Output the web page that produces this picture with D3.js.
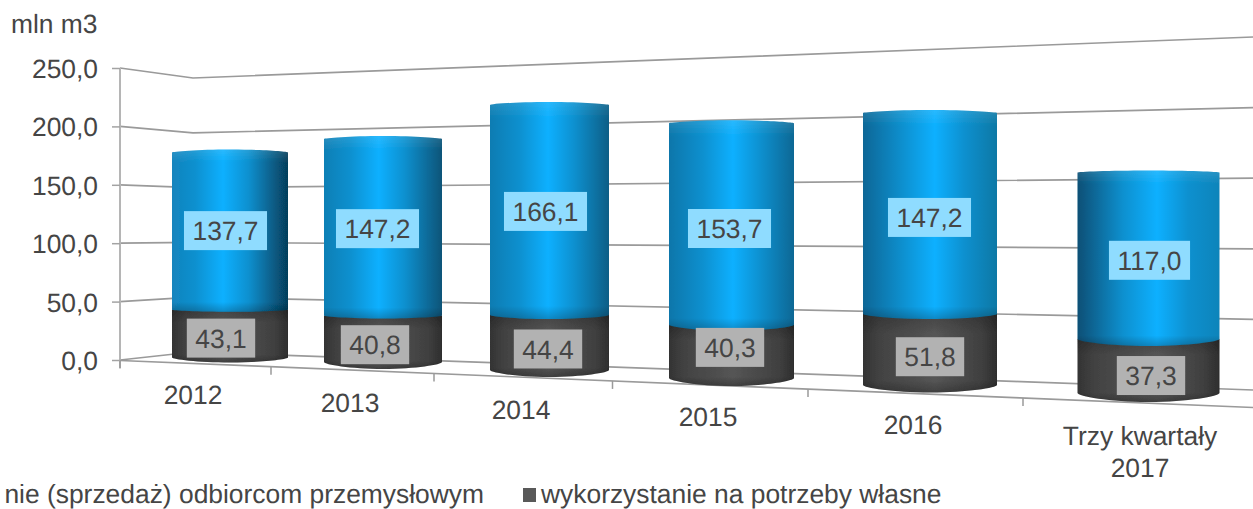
<!DOCTYPE html>
<html><head><meta charset="utf-8">
<script src="https://cdn.jsdelivr.net/npm/d3@7"></script>
<style>html,body{margin:0;padding:0;background:#fff}svg{display:block}text{font-family:"Liberation Sans",Arial,sans-serif;fill:#454545;font-size:26.4px;text-rendering:geometricPrecision}</style>
</head><body><svg id="c" width="1253" height="509"></svg>
<script>
const categories = ["2012","2013","2014","2015","2016","Trzy kwartały|2017"];
const sales = [137.7,147.2,166.1,153.7,147.2,117.0];
const ownUse = [43.1,40.8,44.4,40.3,51.8,37.3];
const yTicks = [0,50,100,150,200,250];
const legendLabels = ["nie (sprzedaż) odbiorcom przemysłowym","wykorzystanie na potrzeby własne"];
const unitLabel = "mln m3";

// perspective layout of the 3D chart
const idx = categories.map((_,i)=>i);
const xCenter = d3.scaleLinear().domain(idx).range([230,383,549.5,731.5,930,1148.5]);
const barWidth = d3.scaleLinear().domain(idx).range([116,118,119,125,134,142]);
const baseY = d3.scaleLinear().domain(idx).range([362.5,369,377,386,392.5,402]);
const unit = d3.scaleLinear().domain(idx).range([1.178,1.24,1.307,1.37,1.42,1.5]);
const bottomRy = d3.scaleLinear().domain(idx).range([5,7,7,8,7.5,9]);
const seamRy = d3.scaleLinear().domain(idx).range([2,3,4,6,5,7]);
const topRy = d3.scaleLinear().domain(idx).range([3,3,3,3,3,2]);
const labelXBlue = d3.scaleLinear().domain(idx).range([225.5,377.5,545.5,729.5,929.5,1149.5]);
const labelXDark = d3.scaleLinear().domain(idx).range([221,375,548,730,930,1151]);
const labelNudgeBlue = d3.scaleLinear().domain(idx).range([0,1.5,1,3,3,2]);
const labelNudgeDark = d3.scaleLinear().domain(idx).range([1,1,1,-11,1,1.5]);
const catX = d3.scaleLinear().domain(idx).range([193,350,521,708,913,1140]);
const catY = d3.scaleLinear().domain(idx).range([404,412,419,426,434,445]);
const xTicks = [120,271,434,612.5,808,1023];

const yWallFront = d3.scaleLinear().domain([0,250]).range([360,68]);
const yWallBack = d3.scaleLinear().domain([0,250]).range([352,78]);
const yWallRight = d3.scaleLinear().domain([0,250]).range([390,37]);
const floorY = d3.scaleLinear().domain([120,1253]).range([360.5,407.5]);
const xLeft=120, xBack=193, xRight=1253;

const svg = d3.select("#c");
const defs = svg.append("defs");
defs.append("filter").attr("id","soft").attr("x","-5%").attr("y","-5%").attr("width","110%").attr("height","110%")
  .append("feGaussianBlur").attr("stdDeviation",0.5);

const leftEdge = d3.scaleLinear().domain([0,1,2,3,4,5]).range(["#1584bd","#0f7fb5","#0b7cb2","#0a76aa","#0a6696","#0a4f75"]);
const rightEdge = d3.scaleLinear().domain([0,1,2,3,4,5]).range(["#063e5b","#0a5478","#0a5e86","#0a6794","#0c78a5","#0e84ba"]);
const peak = d3.scaleLinear().domain([0,5]).range([44,56]);
idx.forEach(i=>{
  const g=defs.append("linearGradient").attr("id","blue"+i);
  [[0,leftEdge(i)],[peak(i)-24,"#0a90cf"],[peak(i),"#0cb0ff"],[peak(i)+22,"#0a90cf"],[100,rightEdge(i)]]
    .forEach(s=>g.append("stop").attr("offset",s[0]+"%").attr("stop-color",s[1]));
  const k=defs.append("linearGradient").attr("id","dark"+i);
  [[0,"#333333"],[12,"#424242"],[peak(i),"#555555"],[88,"#404040"],[100,"#2e2e2e"]]
    .forEach(s=>k.append("stop").attr("offset",s[0]+"%").attr("stop-color",s[1]));
});
const shade=defs.append("linearGradient").attr("id","shadeB").attr("x1",0).attr("x2",0).attr("y1",0).attr("y2",1);
[[0,"#fff",0.12],[8,"#fff",0],[94,"#000",0],[100,"#000",0.22]].forEach(s=>shade.append("stop").attr("offset",s[0]+"%").attr("stop-color",s[1]).attr("stop-opacity",s[2]));
const shadeD=defs.append("linearGradient").attr("id","shadeD").attr("x1",0).attr("x2",0).attr("y1",0).attr("y2",1);
[[0,"#000",0.2],[25,"#000",0],[85,"#000",0],[100,"#000",0.25]].forEach(s=>shadeD.append("stop").attr("offset",s[0]+"%").attr("stop-color",s[1]).attr("stop-opacity",s[2]));

const soft = svg.append("g").attr("filter","url(#soft)");
const gridLine = d3.line();
soft.append("g").selectAll("path").data(yTicks).join("path")
  .attr("d",v=>gridLine([[xLeft,yWallFront(v)],[xBack,yWallBack(v)],[xRight,yWallRight(v)]]))
  .attr("fill","none").attr("stroke","#9a9a9a").attr("stroke-width",1.7);

// y axis, with tick labels outside the soft group
const yAxis = d3.axisLeft(yWallFront).tickValues(yTicks).tickSize(8).tickPadding(14)
  .tickFormat(d=>d3.format(".1f")(d).replace(".",","));
const ya = svg.append("g").attr("transform",`translate(${xLeft},0)`).call(yAxis);
ya.select(".domain").remove();
ya.selectAll("line").attr("stroke","#a3a3a3").attr("stroke-width",1.5);
ya.selectAll("text").attr("font-size",null).attr("fill",null).attr("dy","0.36em");
ya.attr("font-size",null).attr("font-family",null);
soft.append("line").attr("x1",xLeft).attr("x2",xLeft).attr("y1",yWallFront(250)).attr("y2",yWallFront(0)+8).attr("stroke","#b5b5b5").attr("stroke-width",2);

// floor front edge and category ticks
soft.append("line").attr("x1",xLeft).attr("x2",xRight).attr("y1",floorY(xLeft)).attr("y2",floorY(xRight)).attr("stroke","#9a9a9a").attr("stroke-width",1.7);
soft.append("g").selectAll("line").data(xTicks).join("line")
  .attr("x1",d=>d).attr("x2",d=>d).attr("y1",d=>floorY(d)).attr("y2",d=>floorY(d)+8)
  .attr("stroke","#9a9a9a").attr("stroke-width",1.5);

// cylinders
function body(i,yTop,yBot,topBulge,botBulge){
  const c=xCenter(i),w=barWidth(i)/2,L=c-w,R=c+w;
  const ts=yTop+topBulge, bs=yBot-botBulge;
  return `M${L},${ts}C${L},${ts-topBulge*0.3} ${L+w*0.45},${yTop} ${c},${yTop}`+
         `C${R-w*0.45},${yTop} ${R},${ts-topBulge*0.3} ${R},${ts}`+
         `L${R},${bs}C${R},${bs+botBulge*0.35} ${R-w*0.45},${yBot} ${c},${yBot}`+
         `C${L+w*0.45},${yBot} ${L},${bs+botBulge*0.35} ${L},${bs}Z`;
}
const val = (i,v)=>baseY(i)-unit(i)*v;
const bars = soft.append("g").selectAll("g").data(idx).join("g");
bars.append("path").attr("d",i=>body(i,val(i,ownUse[i])-seamRy(i),baseY(i),0.01,bottomRy(i))).attr("fill",i=>`url(#dark${i})`);
bars.append("path").attr("d",i=>body(i,val(i,ownUse[i])-seamRy(i),baseY(i),0.01,bottomRy(i))).attr("fill","url(#shadeD)");
bars.append("path").attr("d",i=>body(i,val(i,ownUse[i]+sales[i]),val(i,ownUse[i]),topRy(i),seamRy(i))).attr("fill",i=>`url(#blue${i})`);
bars.append("path").attr("d",i=>body(i,val(i,ownUse[i]+sales[i]),val(i,ownUse[i]),topRy(i),seamRy(i))).attr("fill","url(#shadeB)");

// value labels
const fmt = v=>d3.format(".1f")(v).replace(".",",");
function valueLabels(vals,cx,cy,bg){
  const g=svg.append("g").selectAll("g").data(idx).join("g")
    .attr("transform",i=>`translate(${cx(i)},${cy(i)})`);
  g.append("text").attr("text-anchor","middle").attr("dy","0.36em").text(i=>fmt(vals[i]));
  g.insert("rect","text").attr("fill",bg).attr("y",-19.5).attr("height",39)
    .each(function(i){const tw=this.parentNode.querySelector("text").getComputedTextLength();
      d3.select(this).attr("x",-(tw+17)/2).attr("width",tw+17);});
}
valueLabels(sales,labelXBlue,i=>(val(i,ownUse[i])+val(i,ownUse[i]+sales[i]))/2+labelNudgeBlue(i),"#8fdcff");
valueLabels(ownUse,labelXDark,i=>(baseY(i)+val(i,ownUse[i]))/2+labelNudgeDark(i),"#b2b2b2");

// category labels
svg.append("g").selectAll("text").data(idx).join("text")
  .attr("text-anchor","middle")
  .attr("transform",i=>`translate(${catX(i)},${catY(i)})`)
  .each(function(i){
    categories[i].split("|").forEach((s,n)=>d3.select(this).append("tspan").attr("x",0).attr("dy",n?32:0).text(s));
  });

svg.append("text").attr("x",11).attr("y",33).text(unitLabel);

// legend
svg.append("text").attr("x",484).attr("y",503).attr("text-anchor","end").text(legendLabels[0]);
svg.append("rect").attr("x",523).attr("y",488).attr("width",13).attr("height",14).attr("fill","#595959");
svg.append("text").attr("x",541).attr("y",503).text(legendLabels[1]);
</script></body></html>
